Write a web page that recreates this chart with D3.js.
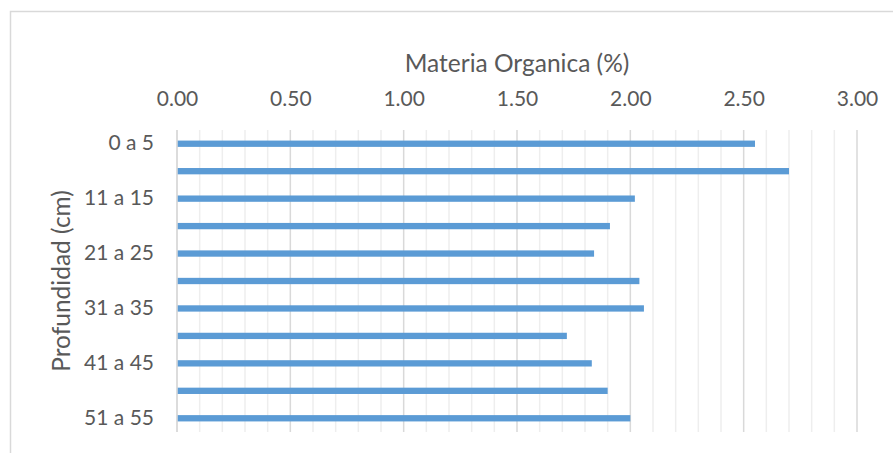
<!DOCTYPE html>
<html>
<head>
<meta charset="utf-8">
<script src="https://cdn.jsdelivr.net/npm/d3@7"></script>
<style>
  html, body { margin: 0; padding: 0; background: #ffffff; }
  svg { display: block; }
  text { font-family: Lato, "Open Sans", sans-serif; fill: #595959; }
</style>
</head>
<body>
<svg id="chart" width="893" height="453"></svg>
<script>
// Depth intervals (cm) and organic matter content (%)
const depths = ["0 a 5", "6 a 10", "11 a 15", "16 a 20", "21 a 25", "26 a 30",
                "31 a 35", "36 a 40", "41 a 45", "46 a 50", "51 a 55"];
const organicMatter = [2.55, 2.70, 2.02, 1.91, 1.84, 2.04, 2.06, 1.72, 1.83, 1.90, 2.00];
const xTicks = [0, 0.5, 1.0, 1.5, 2.0, 2.5, 3.0];
const xMinorTicks = d3.range(0, 31).map(i => i / 10);

const xTitle = "Materia Organica (%)";
const yTitle = "Profundidad (cm)";

const W = 893, H = 453;
const plot = { left: 177, right: 857, top: 130, bottom: 432 };
const tickFont = 21;
const titleFont = 24.5;

const svg = d3.select("#chart");

// Chart area frame
svg.append("rect")
  .attr("x", 10.5).attr("y", 11.5)
  .attr("width", W + 20).attr("height", H + 20)
  .attr("fill", "#ffffff")
  .attr("stroke", "#d9d9d9")
  .attr("stroke-width", 1.5);

const x = d3.scaleLinear().domain([0, 3]).range([plot.left, plot.right]);
const y = d3.scaleBand().domain(depths).range([plot.top, plot.bottom])
  .paddingInner(0.77).paddingOuter(0.385);

// Minor vertical gridlines
svg.append("g").selectAll("line")
  .data(xMinorTicks.filter(v => Math.round(v * 10) % 5 !== 0))
  .join("line")
  .attr("x1", d => x(d)).attr("x2", d => x(d))
  .attr("y1", plot.top).attr("y2", plot.bottom)
  .attr("stroke", "#eeeeee").attr("stroke-width", 1.5);

// Major vertical gridlines
svg.append("g").selectAll("line")
  .data(xTicks.slice(1))
  .join("line")
  .attr("x1", d => x(d)).attr("x2", d => x(d))
  .attr("y1", plot.top).attr("y2", plot.bottom)
  .attr("stroke", "#d9d9d9").attr("stroke-width", 1.5);

// Vertical axis line
svg.append("line")
  .attr("x1", x(0)).attr("x2", x(0))
  .attr("y1", plot.top).attr("y2", plot.bottom)
  .attr("stroke", "#d0d0d0").attr("stroke-width", 1.5);

// Bars
svg.append("g").selectAll("rect")
  .data(depths.map((d, i) => ({ depth: d, value: organicMatter[i] })))
  .join("rect")
  .attr("x", x(0) + 0.75)
  .attr("y", d => y(d.depth))
  .attr("width", d => x(d.value) - x(0) - 0.75)
  .attr("height", y.bandwidth())
  .attr("fill", "#5b9bd5");

// Top value axis
const xAxis = svg.append("g")
  .attr("transform", `translate(0,${plot.top})`)
  .call(d3.axisTop(x).tickValues(xTicks).tickFormat(d3.format(".2f"))
        .tickSize(0).tickPadding(24));
xAxis.select(".domain").remove();
xAxis.selectAll("text")
  .attr("fill", "#595959")
  .attr("font-size", tickFont);

// Category axis, every second label shown
const yAxis = svg.append("g")
  .attr("transform", `translate(${plot.left},0)`)
  .call(d3.axisLeft(y).tickValues(depths.filter((d, i) => i % 2 === 0))
        .tickSize(0).tickPadding(23));
yAxis.select(".domain").remove();
yAxis.selectAll("text")
  .attr("fill", "#595959")
  .attr("font-size", tickFont);
svg.selectAll(".tick text").attr("font-family", null);

// Axis titles
svg.append("text")
  .attr("x", (plot.left + plot.right) / 2)
  .attr("y", 72)
  .attr("text-anchor", "middle")
  .attr("font-size", titleFont)
  .text(xTitle);

svg.append("text")
  .attr("transform", `translate(70,${(plot.top + plot.bottom) / 2}) rotate(-90)`)
  .attr("text-anchor", "middle")
  .attr("font-size", titleFont)
  .text(yTitle);
</script>
</body>
</html>
